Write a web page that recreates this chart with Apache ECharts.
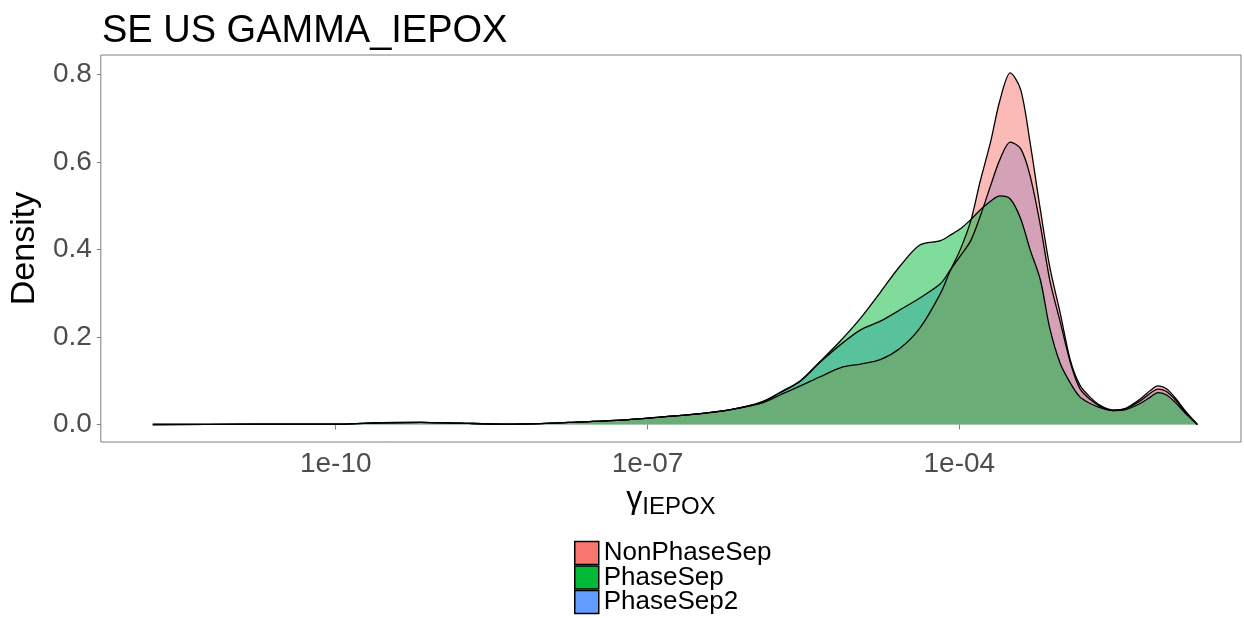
<!DOCTYPE html>
<html>
<head>
<meta charset="utf-8">
<script src="https://cdn.jsdelivr.net/npm/echarts@6/dist/echarts.min.js"></script>
<style>
  html, body { margin: 0; padding: 0; background: #fff; }
  #chart { width: 1244px; height: 618px; }
</style>
</head>
<body>
<div id="chart"></div>
<script>
// log10 of gamma_IEPOX (x positions of the density estimate)
const log10Gamma = [-11.76,-10.82,-9.95,-9.57,-9.18,-8.80,-8.41,-8.03,-7.64,-7.26,-6.88,-6.49,-6.20,
  -5.91,-5.72,-5.53,-5.34,-5.14,-4.95,-4.76,-4.57,-4.38,-4.18,-4.09,-3.99,-3.89,-3.80,-3.70,-3.61,-3.51,
  -3.41,-3.32,-3.22,-3.13,-3.03,-2.93,-2.84,-2.74,-2.64,-2.52,-2.40,-2.26,-2.16,-2.09,-2.01,-1.92,-1.83,-1.71];

const nonPhaseSep = [0,0.0005,0.001,0.004,0.005,0.003,0.001,0.002,0.006,0.010,0.017,0.025,0.034,
  0.048,0.068,0.088,0.109,0.130,0.138,0.148,0.174,0.220,0.300,0.350,0.400,0.465,0.555,0.645,0.740,0.803,
  0.765,0.645,0.490,0.360,0.255,0.145,0.090,0.062,0.043,0.033,0.037,0.058,0.078,0.088,0.082,0.060,0.032,0];

const phaseSep = [0,0.0005,0.001,0.004,0.005,0.003,0.001,0.002,0.006,0.010,0.017,0.025,0.034,
  0.051,0.074,0.100,0.144,0.192,0.243,0.302,0.362,0.410,0.420,0.432,0.447,0.468,0.490,0.510,0.522,0.515,
  0.470,0.400,0.330,0.220,0.140,0.094,0.063,0.048,0.038,0.032,0.034,0.048,0.063,0.073,0.068,0.050,0.027,0];

const phaseSep2 = [0,0.0005,0.001,0.004,0.005,0.003,0.001,0.002,0.006,0.010,0.017,0.025,0.034,
  0.050,0.073,0.099,0.142,0.183,0.216,0.236,0.262,0.289,0.322,0.352,0.385,0.420,0.475,0.545,0.605,0.645,
  0.630,0.569,0.454,0.330,0.235,0.140,0.082,0.057,0.041,0.032,0.036,0.054,0.072,0.081,0.076,0.056,0.030,0];

const xTickExponents = [-10, -7, -4];
const yTicks = [0, 0.2, 0.4, 0.6, 0.8];
const seriesNames = ['NonPhaseSep', 'PhaseSep', 'PhaseSep2'];

const FONT = "'Liberation Sans', Arial, sans-serif";
const pairs = ys => log10Gamma.map((x, i) => [x, ys[i]]);
const fmtExp = v => '1e' + (v < 0 ? '-' : '+') + String(Math.abs(v)).padStart(2, '0');

function densitySeries(name, values, color) {
  return {
    type: 'line', name: name, data: pairs(values),
    smooth: 0.3, symbol: 'none', showSymbol: false,
    lineStyle: { color: '#000', width: 1.3 },
    itemStyle: { color: color, borderColor: '#000', borderWidth: 1.5 },
    areaStyle: { color: color, opacity: 0.5 },
    emphasis: { disabled: true }, silent: true
  };
}

const legends = seriesNames.map((n, i) => ({
  orient: 'vertical', left: 574, top: 540 + i * 24.5, padding: 0,
  data: [{ name: n, icon: 'rect' }],
  itemWidth: 24, itemHeight: 23, itemGap: 0,
  itemStyle: { borderColor: '#000', borderWidth: 1.5 },
  textStyle: { fontFamily: FONT, fontSize: 26, color: '#000' },
  selectedMode: false
}));

const chart = echarts.init(document.getElementById('chart'));
chart.setOption({
  animation: false,
  backgroundColor: '#fff',
  title: {
    text: 'SE US GAMMA_IEPOX', left: 97, top: 8,
    textStyle: { fontFamily: FONT, fontSize: 38, fontWeight: 'normal', color: '#000' }
  },
  legend: legends,
  grid: {
    left: 100, right: 3, top: 55, bottom: 176,
    show: true, borderColor: '#7f7f7f', borderWidth: 1, backgroundColor: '#fff'
  },
  xAxis: {
    type: 'value', min: -12.26, max: -1.29,
    axisLine: { show: false },
    splitLine: { show: false },
    axisTick: { show: true, customValues: xTickExponents, length: 5, lineStyle: { color: '#7f7f7f' } },
    axisLabel: { customValues: xTickExponents, formatter: fmtExp, fontFamily: FONT, fontSize: 28, color: '#4d4d4d', margin: 8 },
    name: '{g|γ}{s|IEPOX}', nameLocation: 'middle', nameGap: 22,
    nameTextStyle: {
      fontFamily: FONT, color: '#000',
      rich: {
        g: { fontFamily: FONT, fontSize: 32, lineHeight: 36, verticalAlign: 'top', color: '#000' },
        s: { fontFamily: FONT, fontSize: 24, lineHeight: 26, verticalAlign: 'bottom', color: '#000' }
      }
    }
  },
  yAxis: {
    type: 'value', min: -0.040, max: 0.844,
    axisLine: { show: false },
    splitLine: { show: false },
    axisTick: { show: true, customValues: yTicks, length: 4, lineStyle: { color: '#7f7f7f' } },
    axisLabel: { customValues: yTicks, formatter: v => v.toFixed(1), fontFamily: FONT, fontSize: 28, color: '#4d4d4d', margin: 9 },
    name: 'Density', nameLocation: 'middle', nameRotate: 90, nameGap: 45,
    nameTextStyle: { fontFamily: FONT, fontSize: 34, color: '#000' }
  },
  series: [
    densitySeries('PhaseSep2', phaseSep2, '#619CFF'),
    densitySeries('NonPhaseSep', nonPhaseSep, '#F8766D'),
    densitySeries('PhaseSep', phaseSep, '#00BA38')
  ]
});
</script>
</body>
</html>
